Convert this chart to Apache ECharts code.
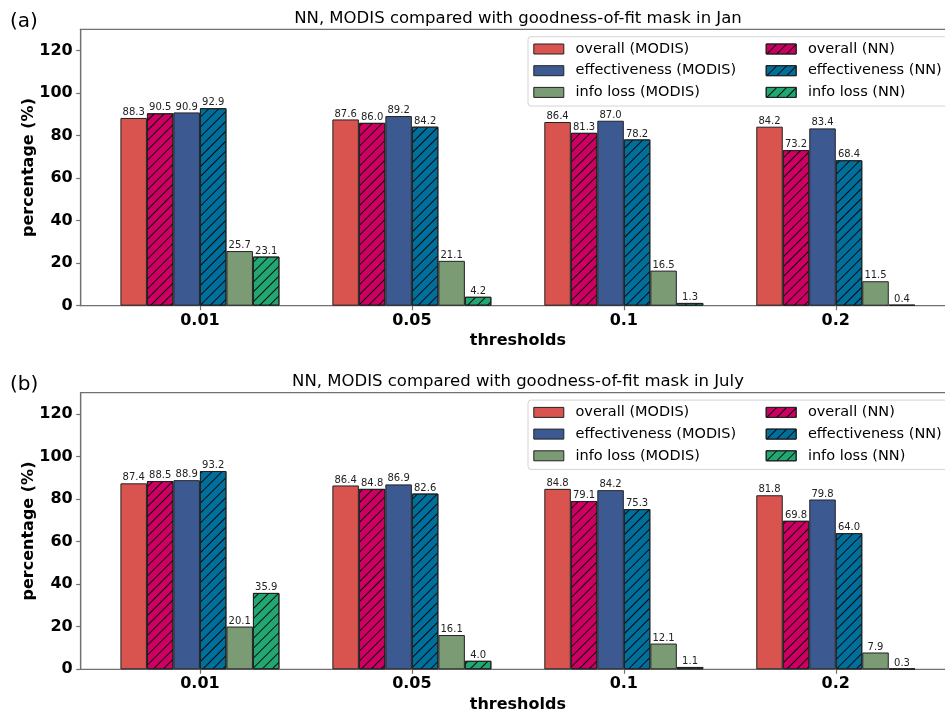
<!DOCTYPE html>
<html>
<head>
<meta charset="utf-8">
<script src="https://cdn.jsdelivr.net/npm/echarts@6/dist/echarts.min.js"></script>
<style>html,body{margin:0;padding:0;background:#fff}#c{width:945px;height:715px}</style>
</head>
<body>
<div id="c"></div>
<script>
// ---- data ----
const thresholds = ['0.01', '0.05', '0.1', '0.2'];
const yTicks = [0, 20, 40, 60, 80, 100, 120];
const seriesNames = ['overall (MODIS)', 'overall (NN)', 'effectiveness (MODIS)', 'effectiveness (NN)', 'info loss (MODIS)', 'info loss (NN)'];
const titleJan = 'NN, MODIS compared with goodness-of-fit mask in Jan';
const titleJul = 'NN, MODIS compared with goodness-of-fit mask in July';

// Jan
const janOverallMODIS = [88.3, 87.6, 86.4, 84.2];
const janOverallNN = [90.5, 86.0, 81.3, 73.2];
const janEffMODIS = [90.9, 89.2, 87.0, 83.4];
const janEffNN = [92.9, 84.2, 78.2, 68.4];
const janInfoMODIS = [25.7, 21.1, 16.5, 11.5];
const janInfoNN = [23.1, 4.2, 1.3, 0.4];
// July
const julOverallMODIS = [87.4, 86.4, 84.8, 81.8];
const julOverallNN = [88.5, 84.8, 79.1, 69.8];
const julEffMODIS = [88.9, 86.9, 84.2, 79.8];
const julEffNN = [93.2, 82.6, 75.3, 64.0];
const julInfoMODIS = [20.1, 16.1, 12.1, 7.9];
const julInfoNN = [35.9, 4.0, 1.1, 0.3];

// ---- styles ----
const FONT = 'DejaVu Sans';
const colors = ['#d9534f', '#cc0062', '#3c5a91', '#006f9b', '#7a9b74', '#22a772'];
const hatched = [false, true, false, true, false, true];
const hatch = {
  symbol: 'rect', symbolSize: 1,
  dashArrayX: [1, 0], dashArrayY: [0.9, 5.4],
  rotation: -Math.PI / 4, color: 'rgba(0,0,0,0.9)'
};
const axisGray = '#707070';
const grids = [
  {left: 80.7, top: 29.3, height: 276.4, width: 874.3},
  {left: 80.7, top: 392.7, height: 276.6, width: 874.3}
];
const OFF = 363.4;

function mkSeries(gi, arrays) {
  return arrays.map((vals, k) => ({
    type: 'bar',
    name: seriesNames[k],
    xAxisIndex: gi, yAxisIndex: gi,
    barWidth: 26.5, barGap: '0%',
    data: thresholds.map((t, i) => [i, vals[i]]),
    itemStyle: Object.assign({color: colors[k], borderColor: '#222', borderWidth: 1},
      hatched[k] ? {decal: hatch} : {}),
    label: {
      show: true, position: 'top', distance: 0.5,
      fontFamily: FONT, fontSize: 10, color: '#222',
      formatter: p => p.value[1].toFixed(1)
    },
    emphasis: {disabled: true}
  }));
}

const xAxes = [0, 1].map(gi => ({
  type: 'value', gridIndex: gi, min: -0.5625, max: 3.5625,
  splitLine: {show: false},
  axisLine: {show: true, onZero: false, lineStyle: {color: axisGray, width: 1.2}},
  axisTick: {show: true, length: 4.5, customValues: [0, 1, 2, 3], lineStyle: {color: axisGray, width: 1.2}},
  axisLabel: {customValues: [0, 1, 2, 3], formatter: v => thresholds[Math.round(v)],
    fontFamily: FONT, fontSize: 16, fontWeight: 'bold', color: '#000', margin: 7},
  name: 'thresholds', nameLocation: 'middle', nameGap: 27.5, nameMoveOverlap: false,
  nameTextStyle: {fontFamily: FONT, fontSize: 16, fontWeight: 'bold', color: '#000'}
}));
const yAxes = [0, 1].map(gi => ({
  type: 'value', gridIndex: gi, min: 0, max: 130,
  splitLine: {show: false},
  axisLine: {show: true, onZero: false, lineStyle: {color: axisGray, width: 1.2}},
  axisTick: {show: true, length: 4.5, customValues: yTicks, lineStyle: {color: axisGray, width: 1.2}},
  axisLabel: {customValues: yTicks, fontFamily: FONT, fontSize: 16, fontWeight: 'bold', color: '#000', margin: 8},
  name: 'percentage (%)', nameLocation: 'middle', nameGap: 44, nameRotate: 90, nameMoveOverlap: false,
  nameTextStyle: {fontFamily: FONT, fontSize: 16, fontWeight: 'bold', color: '#000'}
}));

function mkLegend(gi, col) {
  const names = seriesNames.filter((n, k) => (k % 2) === col);
  return {
    orient: 'vertical', left: col === 0 ? 533.3 : 765.7, top: 41 + gi * OFF,
    padding: 0, itemGap: 5.7, itemWidth: 30, itemHeight: 10, icon: 'rect',
    data: names, selectedMode: false,
    itemStyle: {borderColor: '#222', borderWidth: 1},
    textStyle: {fontFamily: FONT, fontSize: 14.5, color: '#000', lineHeight: 16, padding: [0, 0, 0, 6.7]}
  };
}

const legendBox = gi => ({
  type: 'rect', z: 0,
  shape: {x: 528, y: 36.7 + gi * OFF, width: 440, height: 69.3, r: 3},
  style: {fill: '#fff', stroke: '#d4d4d4', lineWidth: 1}
});

const option = {
  animation: false,
  backgroundColor: '#fff',
  title: [
    {text: '(a)', left: 10, top: 11.7, padding: 0, textStyle: {fontFamily: FONT, fontSize: 20, fontWeight: 'normal', color: '#000'}},
    {text: titleJan, left: 518, textAlign: 'center', top: 10, padding: 0, textStyle: {fontFamily: FONT, fontSize: 16.5, fontWeight: 'normal', color: '#000'}},
    {text: '(b)', left: 10, top: 11.7 + OFF, padding: 0, textStyle: {fontFamily: FONT, fontSize: 20, fontWeight: 'normal', color: '#000'}},
    {text: titleJul, left: 518, textAlign: 'center', top: 10 + OFF, padding: 0, textStyle: {fontFamily: FONT, fontSize: 16.5, fontWeight: 'normal', color: '#000'}}
  ],
  grid: grids.map(g => Object.assign({show: true, borderColor: axisGray, borderWidth: 1.2, backgroundColor: 'transparent',
    containLabel: false, outerBoundsMode: 'none'}, g)),
  xAxis: xAxes,
  yAxis: yAxes,
  legend: [mkLegend(0, 0), mkLegend(0, 1), mkLegend(1, 0), mkLegend(1, 1)],
  graphic: [legendBox(0), legendBox(1)],
  series: [].concat(
    mkSeries(0, [janOverallMODIS, janOverallNN, janEffMODIS, janEffNN, janInfoMODIS, janInfoNN]),
    mkSeries(1, [julOverallMODIS, julOverallNN, julEffMODIS, julEffNN, julInfoMODIS, julInfoNN])
  )
};
const chart = echarts.init(document.getElementById('c'), null, {renderer: 'canvas'});
chart.setOption(option);
</script>
</body>
</html>
